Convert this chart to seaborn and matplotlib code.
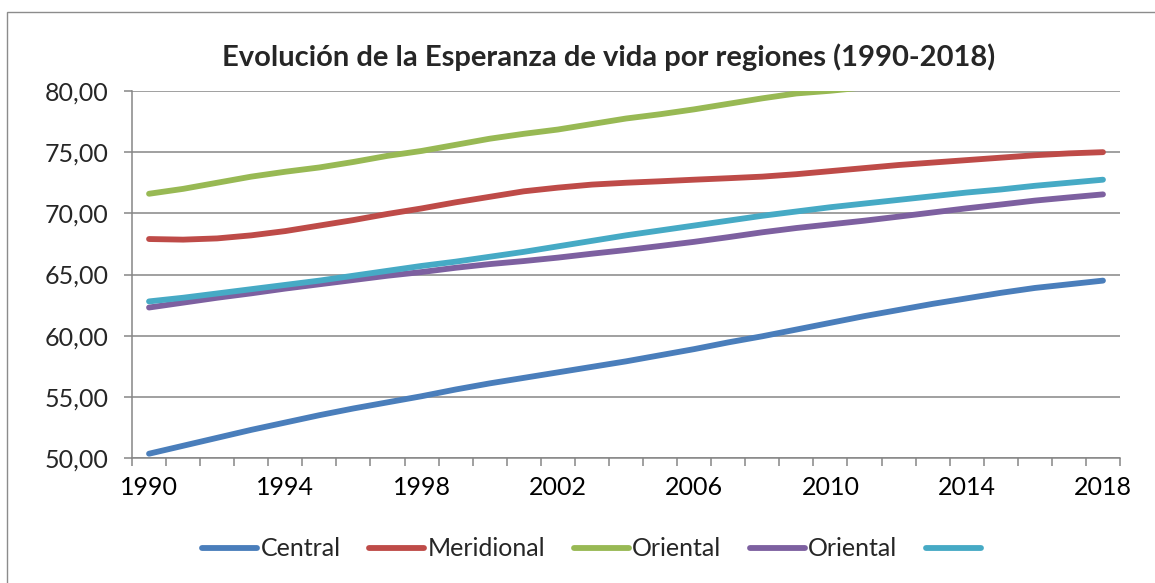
import matplotlib
matplotlib.use("Agg")
import matplotlib.pyplot as plt
import seaborn as sns
from matplotlib.ticker import FuncFormatter, FixedLocator
from matplotlib.patches import Rectangle
from matplotlib.lines import Line2D

years = list(range(1990, 2019))
central = [50.35, 51.0, 51.65, 52.3, 52.9, 53.5, 54.05, 54.55, 55.05, 55.6,
           56.1, 56.55, 57.0, 57.45, 57.9, 58.4, 58.9, 59.45, 59.95, 60.5,
           61.05, 61.6, 62.1, 62.6, 63.05, 63.5, 63.9, 64.2, 64.5]
meridional = [67.9, 67.85, 67.95, 68.2, 68.55, 69.0, 69.45, 69.95, 70.4, 70.9,
              71.35, 71.8, 72.1, 72.35, 72.5, 72.62, 72.75, 72.87, 73.0, 73.2,
              73.45, 73.7, 73.95, 74.15, 74.35, 74.55, 74.75, 74.9, 75.0]
oriental_a = [71.6, 72.0, 72.5, 73.0, 73.4, 73.75, 74.2, 74.7, 75.1, 75.6,
              76.1, 76.5, 76.85, 77.3, 77.75, 78.1, 78.5, 78.95, 79.4, 79.8,
              80.02, 80.3, 80.6, 80.9, 81.2, 81.5, 81.8, 82.1, 82.4]
oriental_b = [62.3, 62.7, 63.1, 63.46, 63.85, 64.2, 64.55, 64.9, 65.2, 65.55,
              65.85, 66.1, 66.38, 66.7, 67.0, 67.33, 67.67, 68.05, 68.45, 68.8,
              69.1, 69.4, 69.73, 70.07, 70.41, 70.72, 71.04, 71.3, 71.55]
unnamed = [62.8, 63.1, 63.45, 63.8, 64.15, 64.5, 64.9, 65.3, 65.7, 66.05,
           66.45, 66.85, 67.3, 67.75, 68.2, 68.6, 69.0, 69.4, 69.8, 70.15,
           70.5, 70.8, 71.1, 71.4, 71.7, 71.95, 72.25, 72.5, 72.75]
series_labels = ["Central", "Meridional", "Oriental", "Oriental", ""]
x_labels = ["1990", "1994", "1998", "2002", "2006", "2010", "2014", "2018"]
title = "Evolución de la Esperanza de vida por regiones (1990-2018)"

colors = ["#4A7EBB", "#BE4B48", "#98B954", "#7D60A0", "#46AAC5"]
series = [central, meridional, oriental_a, oriental_b, unnamed]

sns.set_theme(style="white")
plt.rcParams["font.family"] = ["Lato", "DejaVu Sans"]

fig = plt.figure(figsize=(11.55, 5.83), dpi=100)
ax = fig.add_axes([132/1155, 1-458/583, (1120-132)/1155, (458-91)/583])

handles = []
for vals, col, lab in zip(series, colors, series_labels):
    sns.lineplot(x=years, y=vals, ax=ax, color=col, linewidth=4.2,
                 solid_capstyle="round", legend=False)
    handles.append(Line2D([0], [0], color=col, linewidth=4.2, solid_capstyle="round"))

grid_c = "#868686"
ax.set_xlim(1989.5, 2018.5)
ax.set_ylim(50, 80)
ax.set_yticks([50, 55, 60, 65, 70, 75, 80])
ax.yaxis.set_major_formatter(FuncFormatter(lambda v, p: f"{v:.2f}".replace(".", ",")))
ax.yaxis.grid(True, color=grid_c, linewidth=1.1)
ax.xaxis.grid(False)
ax.set_xticks([int(s) for s in x_labels])
ax.set_xticklabels(x_labels)
ax.xaxis.set_minor_locator(FixedLocator([y + 0.5 for y in range(1989, 2019)]))
ax.tick_params(axis="x", which="major", length=0, pad=13, labelsize=18, colors="black")
ax.tick_params(axis="x", which="minor", length=6, width=1.1, color=grid_c, direction="out", bottom=True)
ax.tick_params(axis="y", which="major", length=6, width=1.1, color=grid_c, left=True, pad=11, labelsize=18)
for s in ["top", "right"]:
    ax.spines[s].set_visible(False)
for s in ["left", "bottom"]:
    ax.spines[s].set_color(grid_c)
    ax.spines[s].set_linewidth(1.1)
ax.set_xlabel("")
ax.set_ylabel("")

fig.text(609/1155, 1-57/583, title, ha="center", va="center", fontsize=21, fontweight="bold")

fig.legend(handles, series_labels, loc="center", bbox_to_anchor=(593/1155, 1-549/583),
           ncol=5, frameon=False, fontsize=18, handlelength=2.2, handletextpad=0.12,
           columnspacing=1.15)

fig.patches.append(Rectangle((7/1155, -0.1), 1.2, 1-12/583+0.1, transform=fig.transFigure,
                             fill=False, edgecolor="#8c8c8c", linewidth=1.0))

fig.savefig("out.png", dpi=100)
